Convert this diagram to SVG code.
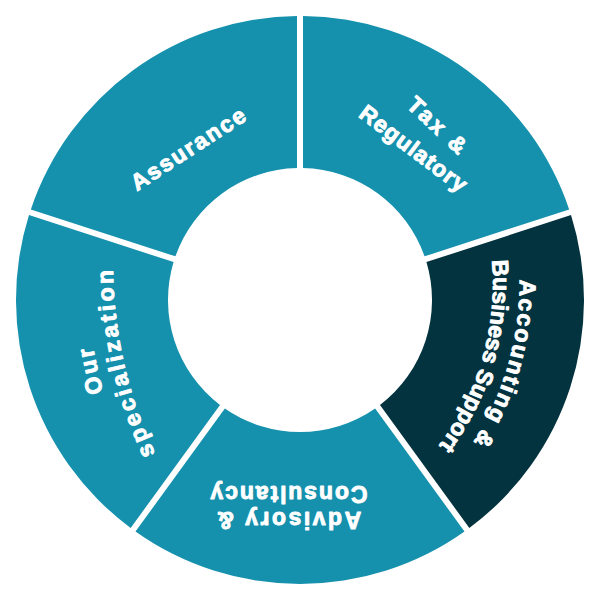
<svg xmlns="http://www.w3.org/2000/svg" width="600" height="600" viewBox="0 0 600 600">
<style>
.seg{fill:#1591ae}
.dark{fill:#02333f}
.lbl{font-family:"Liberation Sans",Arial,sans-serif;font-weight:700;font-size:23px;fill:#ffffff;stroke:#ffffff;stroke-width:0.9;stroke-linejoin:round;text-anchor:middle}
</style>
<defs>
<path id="sector" d="M303,16.02 A284,284 0 0 1 569.16,209.39 L424.58,256.37 A132,132 0 0 0 303,168.03 Z"/>
<path id="arcAcc" d="M436.85,79.42 A294.5,294.5 0 0 1 296.25,569.75"/>
<path id="arcBus" d="M417.78,97.83 A268,268 0 0 1 289.84,544.04"/>
<path id="arcOur" d="M268.28,633.7 A461,461 0 0 1 136.98,55.78"/>
<path id="arcSpec" d="M284.6,612.19 A434,434 0 0 1 160.99,68.12"/>
</defs>
<rect width="600" height="600" fill="#ffffff"/>
<g id="tax-regulatory">
<use href="#sector" class="seg"/>
<text class="lbl" letter-spacing="2.8" transform="translate(433,132) rotate(43)">Tax &amp;</text>
<text class="lbl" letter-spacing="0.9" transform="translate(409,155) rotate(37)">Regulatory</text>
</g>
<g id="accounting">
<use href="#sector" class="dark" transform="rotate(72 300 300)"/>
<text class="lbl" letter-spacing="2"><textPath href="#arcAcc" startOffset="50%">Accounting &amp;</textPath></text>
<text class="lbl" letter-spacing="0"><textPath href="#arcBus" startOffset="50%">Business Support</textPath></text>
</g>
<g id="advisory">
<use href="#sector" class="seg" transform="rotate(144 300 300)"/>
<text class="lbl" letter-spacing="2.5" transform="translate(288,512) rotate(180)">Advisory &amp;</text>
<text class="lbl" letter-spacing="1.9" transform="translate(288,486) rotate(180)">Consultancy</text>
</g>
<g id="specialization">
<use href="#sector" class="seg" transform="rotate(216 300 300)"/>
<text class="lbl" letter-spacing="2.5"><textPath href="#arcOur" startOffset="50%">Our</textPath></text>
<text class="lbl" letter-spacing="3"><textPath href="#arcSpec" startOffset="50%">specialization</textPath></text>
</g>
<g id="assurance">
<use href="#sector" class="seg" transform="rotate(288 300 300)"/>
<text class="lbl" letter-spacing="1.8" transform="translate(193,155) rotate(-33)">Assurance</text>
</g>
<g id="connectors"/>
</svg>
